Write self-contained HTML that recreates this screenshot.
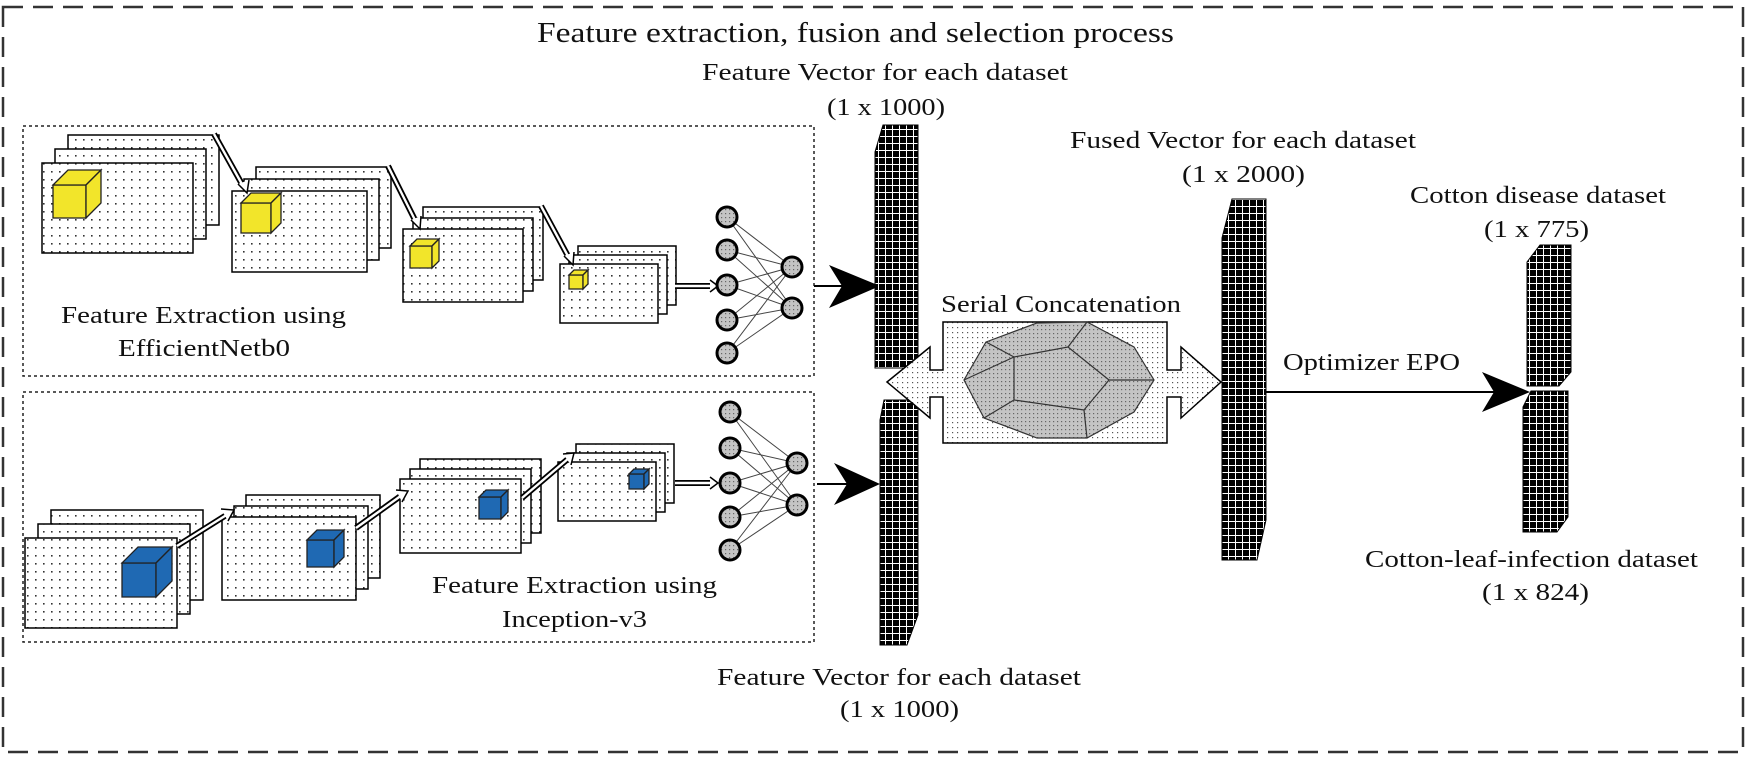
<!DOCTYPE html>
<html><head><meta charset="utf-8"><style>html,body{margin:0;padding:0;background:#fff}svg{display:block}svg text{font-family:"Liberation Serif","Times New Roman",serif}</style></head>
<body>
<svg width="1750" height="758" viewBox="0 0 1750 758" xmlns="http://www.w3.org/2000/svg" font-family="'Liberation Serif', serif" fill="#111">
<defs>
<pattern id="dots" width="8" height="8" patternUnits="userSpaceOnUse"><rect width="8" height="8" fill="#fff"/><rect x="3" y="3" width="1.6" height="1.6" fill="#333"/></pattern>
<pattern id="fdots" width="5" height="5" patternUnits="userSpaceOnUse"><rect width="5" height="5" fill="#fff"/><rect x="2" y="2" width="1.2" height="1.2" fill="#555"/></pattern>
<pattern id="gdots" width="4" height="4" patternUnits="userSpaceOnUse"><rect width="4" height="4" fill="#c4c4c4"/><rect x="1" y="1" width="1.2" height="1.2" fill="#666"/></pattern>
<pattern id="grid" width="7" height="7" patternUnits="userSpaceOnUse"><rect width="7" height="7" fill="#000"/><path d="M0 3.5H7M3.5 0V7" stroke="#fff" stroke-width="1"/></pattern>
</defs>

<rect x="3" y="7" width="1740" height="745" fill="none" stroke="#333" stroke-width="2.5" stroke-dasharray="20 10"/>
<rect x="23" y="126" width="791" height="250" fill="none" stroke="#222" stroke-width="1.5" stroke-dasharray="3 3"/>
<rect x="23" y="392" width="791" height="250" fill="none" stroke="#222" stroke-width="1.5" stroke-dasharray="3 3"/>

<g stroke="#000" stroke-width="1.5" fill="url(#dots)">
<rect x="68" y="135" width="151" height="90"/><rect x="55" y="149" width="151" height="90"/><rect x="42" y="163" width="151" height="90"/>
<rect x="256" y="167" width="135" height="81"/><rect x="244" y="179" width="135" height="81"/><rect x="232" y="191" width="135" height="81"/>
<rect x="423" y="207" width="120" height="73"/><rect x="413" y="218" width="120" height="73"/><rect x="403" y="229" width="120" height="73"/>
<rect x="578" y="246" width="98" height="59"/><rect x="569" y="255" width="98" height="59"/><rect x="560" y="264" width="98" height="59"/>
<rect x="51" y="510" width="152" height="90"/><rect x="38" y="524" width="152" height="90"/><rect x="25" y="538" width="152" height="90"/>
<rect x="246" y="495" width="134" height="83"/><rect x="234" y="506" width="134" height="83"/><rect x="222" y="517" width="134" height="83"/>
<rect x="420" y="459" width="121" height="74"/><rect x="410" y="469" width="121" height="74"/><rect x="400" y="479" width="121" height="74"/>
<rect x="576" y="444" width="98" height="59"/><rect x="567" y="453" width="98" height="59"/><rect x="558" y="462" width="98" height="59"/>
</g>

<g stroke="#222" stroke-width="1.3">
<g fill="#f2e52a">
<path d="M53 185h33v33h-33z"/><path d="M53 185l15-15h33l-15 15z"/><path d="M86 185l15-15v33l-15 15z"/>
<path d="M241 203h30v30h-30z"/><path d="M241 203l10-10h30l-10 10z"/><path d="M271 203l10-10v30l-10 10z"/>
<path d="M410 246h22v22h-22z"/><path d="M410 246l7-7h22l-7 7z"/><path d="M432 246l7-7v22l-7 7z"/>
<path d="M569 275h14v14h-14z"/><path d="M569 275l5-5h14l-5 5z"/><path d="M583 275l5-5v14l-5 5z"/>
</g>
<g fill="#1f69b3">
<path d="M122 563h34v34h-34z"/><path d="M122 563l16-16h34l-16 16z"/><path d="M156 563l16-16v34l-16 16z"/>
<path d="M307 540h27v27h-27z"/><path d="M307 540l10-10h27l-10 10z"/><path d="M334 540l10-10v27l-10 10z"/>
<path d="M479 497h22v22h-22z"/><path d="M479 497l7-7h22l-7 7z"/><path d="M501 497l7-7v22l-7 7z"/>
<path d="M629 474h15v15h-15z"/><path d="M629 474l5-5h15l-5 5z"/><path d="M644 474l5-5v15l-5 5z"/>
</g>
</g>

<g fill="none" stroke-linecap="butt">
<g stroke="#000" stroke-width="6">
<path d="M214 134L243 186"/><path d="M388 166L416 222"/><path d="M541 206L569 258"/>
<path d="M177 546L228 514"/><path d="M356 528L402 495"/><path d="M522 498L569 458"/>
<path d="M675 286H712"/><path d="M675 483H712"/>
</g>
<g stroke="#fff" stroke-width="2.4">
<path d="M214 134L243 186"/><path d="M388 166L416 222"/><path d="M541 206L569 258"/>
<path d="M177 546L228 514"/><path d="M356 528L402 495"/><path d="M522 498L569 458"/>
<path d="M675 286H712"/><path d="M675 483H712"/>
</g>
<g stroke="#000" stroke-width="1.5" fill="#fff">
<path d="M238 184L247 193L249 180"/><path d="M411 220L420 229L421 216"/><path d="M564 256L573 265L574 252"/>
<path d="M221 509L234 510L228 521"/><path d="M396 490L408 491L402 502"/><path d="M563 454L574 453L571 465"/>
<path d="M710 280L718 286L710 292"/><path d="M710 477L718 483L710 489"/>
</g>
</g>

<g stroke="#444" stroke-width="1">
<path d="M727 217L792 267M727 217L792 308M727 250L792 267M727 250L792 308M727 285L792 267M727 285L792 308M727 320L792 267M727 320L792 308M727 353L792 267M727 353L792 308"/>
<path d="M730 412L797 463M730 412L797 505M730 448L797 463M730 448L797 505M730 483L797 463M730 483L797 505M730 517L797 463M730 517L797 505M730 550L797 463M730 550L797 505"/>
</g>
<g fill="url(#gdots)" stroke="#000" stroke-width="3">
<circle cx="727" cy="217" r="10"/><circle cx="727" cy="250" r="10"/><circle cx="727" cy="285" r="10"/><circle cx="727" cy="320" r="10"/><circle cx="727" cy="353" r="10"/>
<circle cx="792" cy="267" r="10"/><circle cx="792" cy="308" r="10"/>
<circle cx="730" cy="412" r="10"/><circle cx="730" cy="448" r="10"/><circle cx="730" cy="483" r="10"/><circle cx="730" cy="517" r="10"/><circle cx="730" cy="550" r="10"/>
<circle cx="797" cy="463" r="10"/><circle cx="797" cy="505" r="10"/>
</g>

<path d="M814 286H845M817 484H850" stroke="#000" stroke-width="2"/>
<path d="M829 265L880 286L829 308L842 286Z M834 463L880 484L834 505L847 484Z" fill="#000"/>

<g fill="url(#grid)" stroke="#000" stroke-width="1">
<path d="M883 125H918V368H875V152Z"/>
<path d="M884 400H918V615L907 645H880V420Z"/>
<path d="M1232 199H1266V520L1257 560H1222V238Z"/>
<path d="M1540 245H1571V372L1559 386H1527V262Z"/>
<path d="M1531 391H1568V517L1557 532H1523V407Z"/>
</g>

<path d="M887 382L930 347V370H943V322H1167V370H1181V347L1221 382L1181 418V397H1167V443H943V397H930V418Z" fill="url(#fdots)" stroke="#000" stroke-width="1.5"/>
<g stroke="#333" stroke-width="1.2" fill="url(#gdots)">
<path d="M986 342L1037 323L1087 322L1134 347L1154 380L1134 412L1087 438L1037 438L984 418L964 380Z"/>
<path d="M1014 357L1068 347L1109 380L1084 410L1014 400Z" fill="none"/>
<path d="M1014 357L986 342M1068 347L1087 322M1109 380L1154 380M1084 410L1087 438M1014 400L984 418M1014 357L964 380" fill="none"/>
</g>

<path d="M1266 392H1505" stroke="#000" stroke-width="2"/>
<path d="M1482 372L1530 392L1482 412L1494 392Z" fill="#000"/>

<text x="537" y="42" font-size="29" textLength="637" lengthAdjust="spacingAndGlyphs">Feature extraction, fusion and selection process</text>
<g font-size="24">
<text x="702" y="80" textLength="366" lengthAdjust="spacingAndGlyphs">Feature Vector for each dataset</text>
<text x="827" y="115" textLength="118" lengthAdjust="spacingAndGlyphs">(1 x 1000)</text>
<text x="61" y="323" textLength="285" lengthAdjust="spacingAndGlyphs">Feature Extraction using</text>
<text x="118" y="356" textLength="172" lengthAdjust="spacingAndGlyphs">EfficientNetb0</text>
<text x="941" y="312" textLength="240" lengthAdjust="spacingAndGlyphs">Serial Concatenation</text>
<text x="1070" y="148" textLength="346" lengthAdjust="spacingAndGlyphs">Fused Vector for each dataset</text>
<text x="1182" y="182" textLength="123" lengthAdjust="spacingAndGlyphs">(1 x 2000)</text>
<text x="1410" y="203" textLength="256" lengthAdjust="spacingAndGlyphs">Cotton disease dataset</text>
<text x="1484" y="237" textLength="105" lengthAdjust="spacingAndGlyphs">(1 x 775)</text>
<text x="1283" y="370" textLength="177" lengthAdjust="spacingAndGlyphs">Optimizer EPO</text>
<text x="1365" y="567" textLength="333" lengthAdjust="spacingAndGlyphs">Cotton-leaf-infection dataset</text>
<text x="1482" y="600" textLength="107" lengthAdjust="spacingAndGlyphs">(1 x 824)</text>
<text x="432" y="593" textLength="285" lengthAdjust="spacingAndGlyphs">Feature Extraction using</text>
<text x="502" y="627" textLength="145" lengthAdjust="spacingAndGlyphs">Inception-v3</text>
<text x="717" y="685" textLength="364" lengthAdjust="spacingAndGlyphs">Feature Vector for each dataset</text>
<text x="840" y="717" textLength="119" lengthAdjust="spacingAndGlyphs">(1 x 1000)</text>
</g>
</svg>
</body></html>
